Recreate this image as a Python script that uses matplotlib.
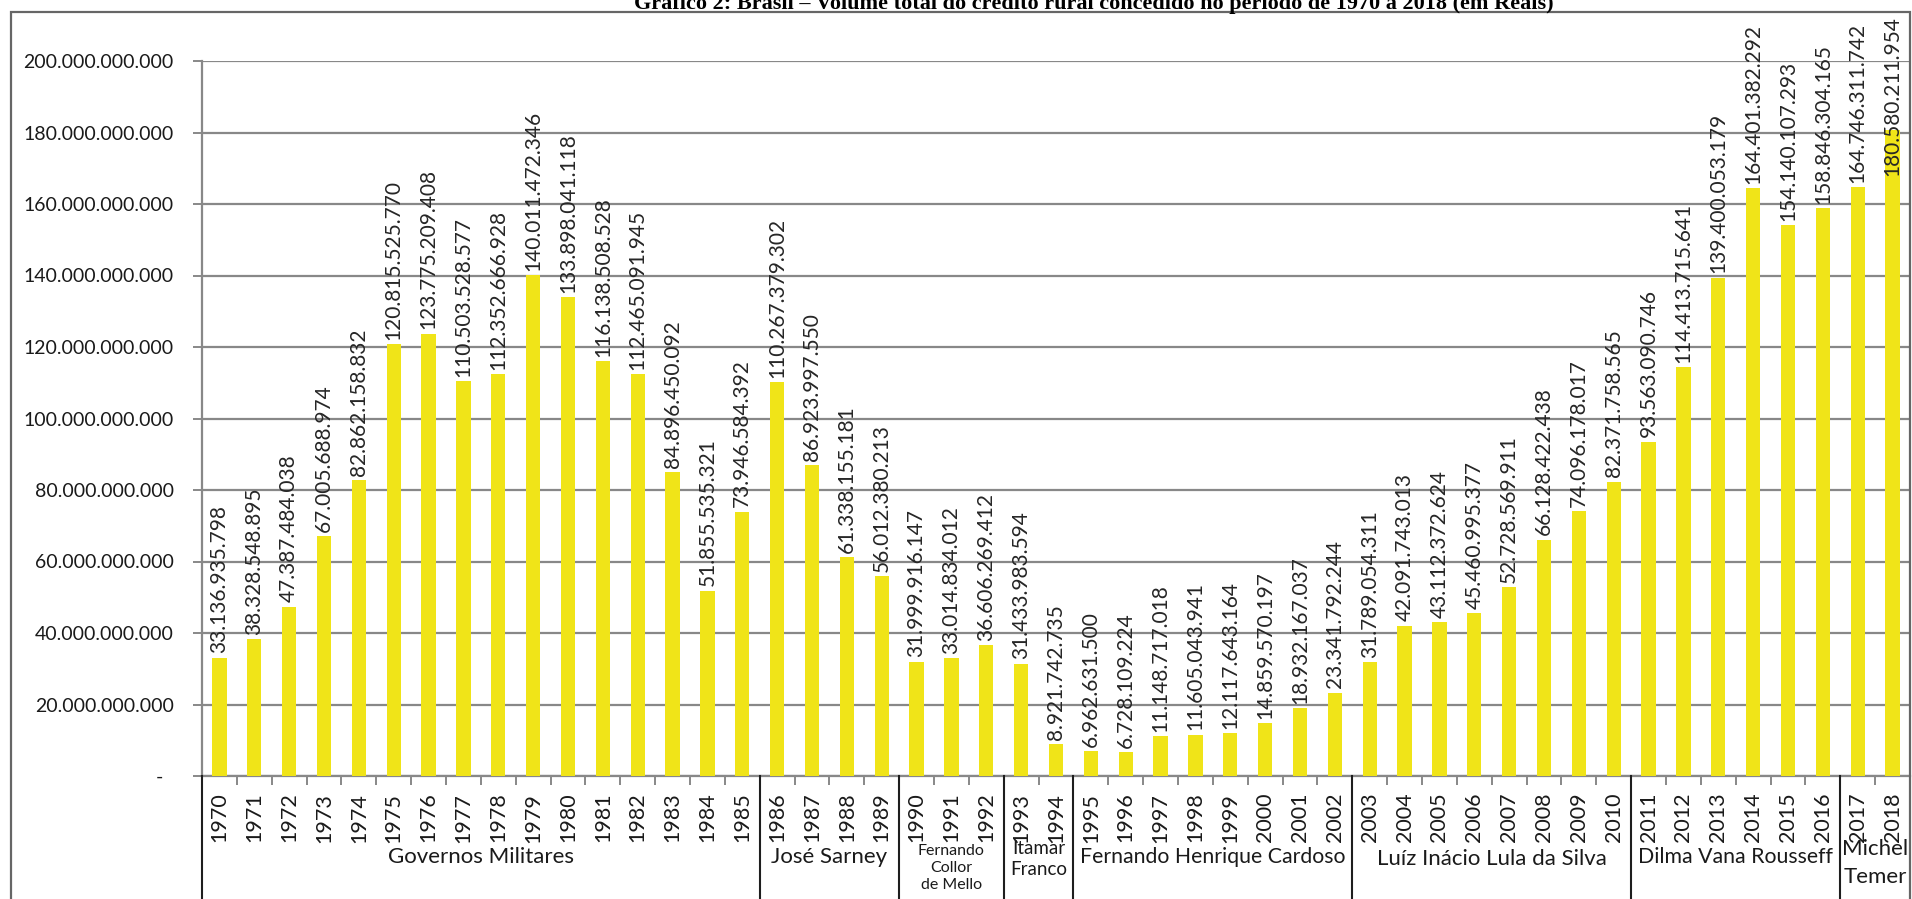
import numpy as np
import matplotlib
matplotlib.use("Agg")
import matplotlib.pyplot as plt
from matplotlib.patches import Rectangle

plt.rcParams['font.family'] = ['Lato', 'DejaVu Sans']

# dados (R$) por ano
anos = list(range(1970, 2019))
volume = [
    33136935798, 38328548895, 47387484038, 67005688974, 82862158832,
    120815525770, 123775209408, 110503528577, 112352666928, 140011472346,
    133898041118, 116138508528, 112465091945, 84896450092, 51855535321,
    73946584392, 110267379302, 86923997550, 61338155181, 56012380213,
    31999916147, 33014834012, 36606269412, 31433983594, 8921742735,
    6962631500, 6728109224, 11148717018, 11605043941, 12117643164,
    14859570197, 18932167037, 23341792244, 31789054311, 42091743013,
    43112372624, 45460995377, 52728569911, 66128422438, 74096178017,
    82371758565, 93563090746, 114413715641, 139400053179, 164401382292,
    154140107293, 158846304165, 164746311742, 180580211954,
]
governos = ["Governos Militares", "José Sarney", "Fernando\nCollor\nde Mello",
            "Itamar\nFranco", "Fernando Henrique Cardoso",
            "Luíz Inácio Lula da Silva", "Dilma Vana Rousseff", "Michel\nTemer"]
n_anos_gov = [16, 4, 3, 2, 8, 8, 6, 2]

titulo = ("Gráfico 2: Brasil – Volume total do crédito rural concedido "
          "no período de 1970 a 2018 (em Reais)")


def fmt_br(v):
    return f"{v:,.0f}".replace(",", ".")


W, H, DPI = 1912, 899, 100
fig = plt.figure(figsize=(W / DPI, H / DPI), dpi=DPI)
ax = fig.add_axes([202 / W, 1 - 776 / H, (1910 - 202) / W, (776 - 61) / H])

GRID = '#888888'
x = np.arange(len(anos))
ax.bar(x, volume, width=0.41, color='#F0E418', zorder=3)

ax.set_xlim(-0.5, len(anos) - 0.5)
ax.set_ylim(0, 200e9)
ax.set_yticks(np.arange(0, 200e9 + 1, 20e9))
ax.set_yticklabels(["-  "] + [fmt_br(v) for v in np.arange(20e9, 200e9 + 1, 20e9)])
ax.yaxis.grid(True, color=GRID, lw=1.6, zorder=0)
ax.tick_params(axis='y', length=6.5, width=1.4, color=GRID, pad=14,
               labelsize=14, labelcolor='#1a1a1a')

ax.set_xticks(x)
ax.set_xticklabels([str(a) for a in anos], rotation=90, fontsize=15.5,
                   color='#1a1a1a')
ax.set_xticks(np.arange(0.5, len(anos) - 0.5), minor=True)
ax.tick_params(axis='x', which='major', length=0, pad=12)
ax.tick_params(axis='x', which='minor', length=6.5, width=1.4, color=GRID)

for side in ['top', 'right']:
    ax.spines[side].set_visible(False)
for side in ['left', 'bottom']:
    ax.spines[side].set_color(GRID)
    ax.spines[side].set_linewidth(1.6)

# separadores de governos e nomes
tr = ax.get_xaxis_transform()
bordas = np.concatenate([[0], np.cumsum(n_anos_gov)]) - 0.5
for b in bordas[:-1]:
    ax.plot([b, b], [0, -0.2], transform=tr, color='#1e1e1e', lw=1.5,
            clip_on=False, zorder=4)
tam = [16, 16, 11.5, 13.5, 15.3, 16, 15.3, 16]
ypix = [857, 857, 868, 859, 857, 859, 857, 863]
espaco = [1.0, 1.0, 1.3, 1.35, 1.0, 1.0, 1.0, 1.45]
for i, nome in enumerate(governos):
    xc = (bordas[i] + bordas[i + 1]) / 2
    ax.text(xc, (776 - ypix[i]) / 715, nome, transform=tr, ha='center',
            va='center', fontsize=tam[i], color='#1a1a1a',
            linespacing=espaco[i])

# rótulos de valores
rotulos = []
for xi, v in zip(x, volume):
    t = ax.annotate(fmt_br(v), (xi, v), xytext=(0, 3), textcoords='offset points',
                    rotation=90, ha='center', va='bottom', fontsize=15,
                    color='#262626', zorder=5)
    rotulos.append(t)

# moldura externa
fig.add_artist(Rectangle((11 / W, -0.05), (1910 - 11) / W, 1.05 - 12 / H,
                         transform=fig.transFigure, fill=False,
                         edgecolor='#666666', lw=1.6))

fig.text(1094 / W, 1 - 9 / H, titulo, ha='center', va='baseline',
         fontsize=16, fontweight='bold', family='Liberation Serif')

# manter rótulos dentro da área do gráfico
fig.canvas.draw()
r = fig.canvas.get_renderer()
limite = H - 16
for t in rotulos:
    bb = t.get_window_extent(r)
    if bb.y1 > limite:
        dx, dy = t.xyann
        t.xyann = (dx, dy - (bb.y1 - limite) * 72 / DPI)

fig.savefig("out.png", dpi=DPI)
